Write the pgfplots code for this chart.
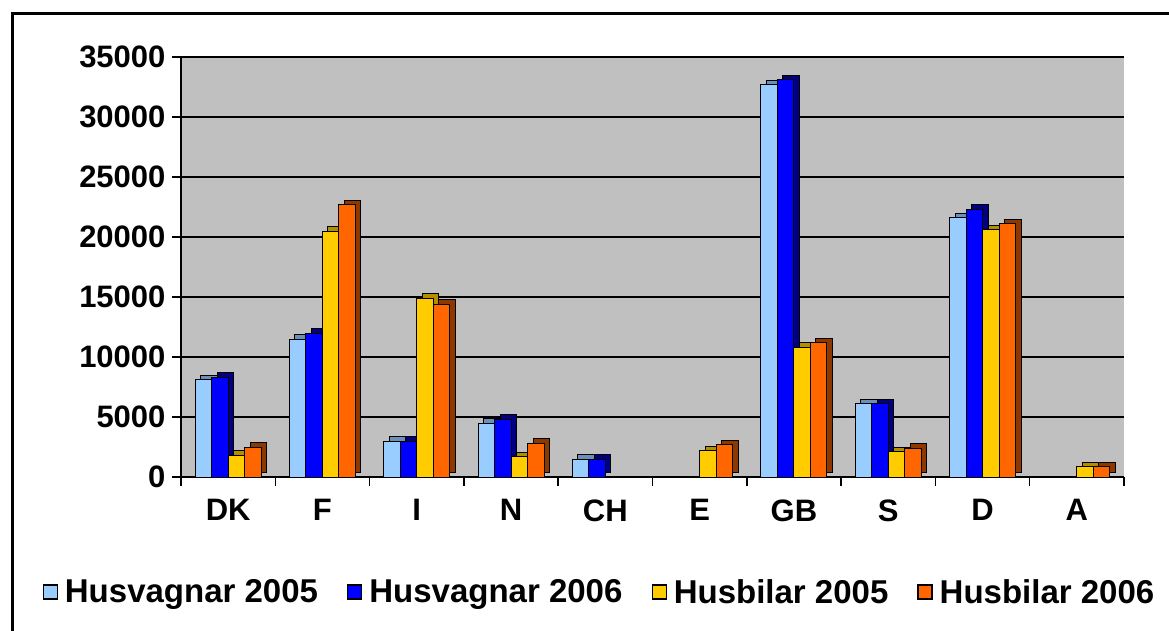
\documentclass[border=0pt]{standalone}
\usepackage{fontspec}
\setmainfont{Liberation Sans}
\usepackage{pgfplots}
\pgfplotsset{compat=1.18}
\definecolor{c1}{HTML}{99CCFF}
\definecolor{c1s}{HTML}{6A8FB8}
\definecolor{c2}{HTML}{0000FF}
\definecolor{c2s}{HTML}{000080}
\definecolor{c3}{HTML}{FFCC00}
\definecolor{c3s}{HTML}{B38F00}
\definecolor{c4}{HTML}{FF6600}
\definecolor{c4s}{HTML}{8C3800}
\definecolor{bg}{HTML}{C0C0C0}
\begin{document}
\begin{tikzpicture}
\path[use as bounding box] (0,0) rectangle (1169pt,630pt);
\draw[line width=3pt] (12pt,-10pt) -- (12pt,616pt) -- (1180pt,616pt);
\begin{axis}[
  at={(181pt,153pt)}, anchor=south west,
  scale only axis, width=943pt, height=420pt,
  xmin=-0.5, xmax=9.5, ymin=0, ymax=35000,
  ytick={0,5000,...,35000},
  scaled y ticks=false,
  xtick={-0.5,0.5,...,9.5},
  x tick label as interval,
  xticklabels={DK,F,I,N,CH,E,GB,S,D,A},
  axis lines=left,
  axis line style={-, black, line width=2pt},
  tick align=outside, major tick length=9pt,
  tick style={black, line width=1.5pt},
  ymajorgrids, grid style={black, line width=1.6pt},
  axis background/.style={fill=bg},
  ybar, bar width=16.5pt,
  /pgf/number format/1000 sep={},
  /pgf/number format/assume math mode=true,
  tick label style={font=\fontsize{31}{36}\selectfont\bfseries},
  yticklabel style={xshift=-3pt},
  xticklabel style={yshift=-10pt},
  legend columns=4,
  legend style={at={(0.4443,-0.274)}, anchor=center, draw=none, fill=none,
    font=\fontsize{33}{38}\selectfont\bfseries,
    nodes={inner sep=3pt},
    /tikz/every odd column/.append style={column sep=4pt},
    /tikz/every even column/.append style={column sep=26pt}},
  legend image code/.code={\draw[#1, draw=black, line width=1.3pt] (0pt,-7pt) rectangle (14pt,7pt);},
]
% shadows (3D depth)
\addplot[forget plot, fill=c1s, draw=black, line width=1pt, bar shift=-19.25pt, yshift=4.5pt] coordinates {(0,8100) (1,11500) (2,3000) (3,4500) (4,1500) (6,32700) (7,6100) (8,21600)};
\addplot[fill=c1, draw=black, line width=1pt, bar shift=-24.75pt] coordinates {(0,8100) (1,11500) (2,3000) (3,4500) (4,1500) (6,32700) (7,6100) (8,21600)};
\addlegendentry{Husvagnar 2005}
\addplot[forget plot, fill=c2s, draw=black, line width=1pt, bar shift=-2.75pt, yshift=4.5pt] coordinates {(0,8300) (1,12000) (2,3000) (3,4800) (4,1500) (6,33100) (7,6100) (8,22300)};
\addplot[fill=c2, draw=black, line width=1pt, bar shift=-8.25pt] coordinates {(0,8300) (1,12000) (2,3000) (3,4800) (4,1500) (6,33100) (7,6100) (8,22300)};
\addlegendentry{Husvagnar 2006}
\addplot[forget plot, fill=c3s, draw=black, line width=1pt, bar shift=13.75pt, yshift=4.5pt] coordinates {(0,1800) (1,20500) (2,14900) (3,1700) (5,2200) (6,10800) (7,2100) (8,20600) (9,850)};
\addplot[fill=c3, draw=black, line width=1pt, bar shift=8.25pt] coordinates {(0,1800) (1,20500) (2,14900) (3,1700) (5,2200) (6,10800) (7,2100) (8,20600) (9,850)};
\addlegendentry{Husbilar 2005}
\addplot[forget plot, fill=c4s, draw=black, line width=1pt, bar shift=30.25pt, yshift=4.5pt] coordinates {(0,2500) (1,22700) (2,14400) (3,2800) (5,2700) (6,11200) (7,2400) (8,21100) (9,850)};
\addplot[fill=c4, draw=black, line width=1pt, bar shift=24.75pt] coordinates {(0,2500) (1,22700) (2,14400) (3,2800) (5,2700) (6,11200) (7,2400) (8,21100) (9,850)};
\addlegendentry{Husbilar 2006}
\end{axis}
\end{tikzpicture}
\end{document}
